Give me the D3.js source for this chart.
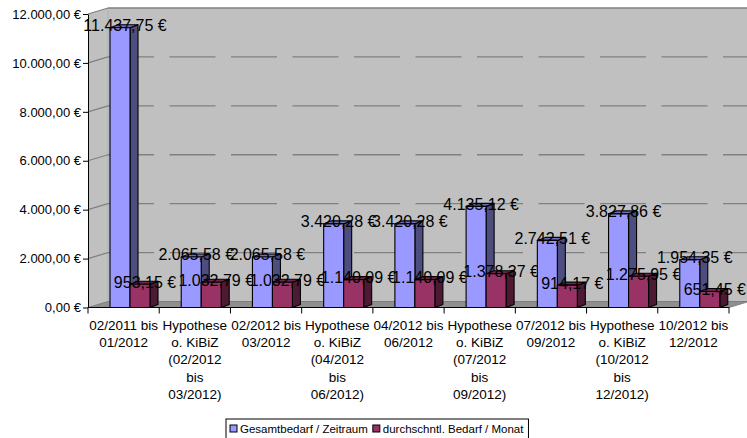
<!DOCTYPE html>
<html>
<head>
<meta charset="utf-8">
<script src="https://cdn.jsdelivr.net/npm/d3@7"></script>
<style>
  body { margin: 0; background: #fff; }
  svg { display: block; font-family: "Liberation Sans", Arial, sans-serif; }
</style>
</head>
<body>
<div id="chart"></div>
<script>
// categories (one entry per label line) and values
var categories = [
  ["02/2011 bis", "01/2012"],
  ["Hypothese", "o. KiBiZ", "(02/2012", "bis", "03/2012)"],
  ["02/2012 bis", "03/2012"],
  ["Hypothese", "o. KiBiZ", "(04/2012", "bis", "06/2012)"],
  ["04/2012 bis", "06/2012"],
  ["Hypothese", "o. KiBiZ", "(07/2012", "bis", "09/2012)"],
  ["07/2012 bis", "09/2012"],
  ["Hypothese", "o. KiBiZ", "(10/2012", "bis", "12/2012)"],
  ["10/2012 bis", "12/2012"]
];
var seriesNames = ["Gesamtbedarf / Zeitraum", "durchschntl. Bedarf / Monat"];
var gesamtbedarf = [11437.75, 2065.58, 2065.58, 3420.28, 3420.28, 4135.12, 2742.51, 3827.86, 1954.35];
var bedarfMonat = [953.15, 1032.79, 1032.79, 1140.09, 1140.09, 1378.37, 914.17, 1275.95, 651.45];
var yTicks = [0, 2000, 4000, 6000, 8000, 10000, 12000];

var W = 747, H = 438;
var plotL = 88, plotR = 729, plotB = 307.5, plotT = 14;
var wallDx = 20, wallDy = -6;   // depth of the back wall
var barDx = 8, barDy = -3;      // depth of each bar

var colors = {
  front: ["#9999ff", "#993366"],
  top:   ["#6e6eb8", "#6e2449"],
  side:  ["#4d4d80", "#4d1a33"]
};

var de = d3.formatLocale({decimal: ",", thousands: ".", grouping: [3], currency: ["", " €"]});
var eur = de.format("$,.2f");

var catKeys = categories.map(function(c) { return c.join(" "); });
var x = d3.scaleBand().domain(catKeys).range([plotL, plotR]);
var xs = d3.scaleBand().domain(seriesNames).range([22, 62]);
var y = d3.scaleLinear().domain([0, 12000]).range([plotB, plotT]);

var svg = d3.select("#chart").append("svg").attr("width", W).attr("height", H);

// walls and floor
var bl = plotL + wallDx, wallTop = y(12000) + wallDy, wallBottom = plotB + wallDy, wallRight = plotR + wallDx;
svg.append("polygon")
  .attr("points", [[plotL, y(12000)], [bl, wallTop], [bl, wallBottom], [plotL, plotB]].join(" "))
  .attr("fill", "#c0c0c0");
svg.append("rect").attr("x", bl).attr("y", wallTop).attr("width", wallRight - bl).attr("height", wallBottom - wallTop)
  .attr("fill", "#c0c0c0");
svg.append("polygon")
  .attr("points", [[plotL, plotB], [bl, wallBottom], [wallRight, wallBottom], [plotR, plotB]].join(" "))
  .attr("fill", "#8f8f8f").attr("stroke", "#6e6e6e").attr("stroke-width", 0.8);
svg.append("line").attr("x1", bl).attr("x2", bl).attr("y1", wallTop).attr("y2", wallBottom)
  .attr("stroke", "#b0b0b0").attr("stroke-width", 1);

// gridlines: solid on the side wall, dashed on the back wall
var grid = svg.append("g").attr("class", "grid");
yTicks.filter(function(d) { return d > 0; }).forEach(function(v) {
  grid.append("line").attr("x1", plotL).attr("y1", y(v)).attr("x2", bl).attr("y2", y(v) + wallDy)
    .attr("stroke", "#808080").attr("stroke-width", 1.2);
  grid.append("line").attr("x1", bl).attr("y1", y(v) + wallDy).attr("x2", wallRight).attr("y2", y(v) + wallDy)
    .attr("stroke", "#808080").attr("stroke-width", 1.3)
    .attr("stroke-dasharray", v == 12000 ? null : "46,15.5");
});

// y axis
var yAxis = svg.append("g").attr("transform", "translate(" + plotL + ",0)")
  .call(d3.axisLeft(y).tickValues(yTicks).tickSize(5).tickSizeOuter(0).tickPadding(2).tickFormat(eur));
yAxis.select(".domain").attr("stroke", "#000");
yAxis.selectAll(".tick line").attr("stroke", "#000");
yAxis.selectAll(".tick text").attr("fill", "#000").attr("font-size", null).attr("font-family", null)
  .style("font-size", "13px");

// x axis: line plus ticks at category borders
var xAxis = svg.append("g");
xAxis.append("line").attr("x1", plotL).attr("x2", plotR).attr("y1", plotB).attr("y2", plotB)
  .attr("stroke", "#000");
xAxis.selectAll(".xtick").data(catKeys.map(function(c) { return x(c); }).concat([plotR])).enter()
  .append("line").attr("class", "xtick")
  .attr("x1", function(d) { return d; }).attr("x2", function(d) { return d; })
  .attr("y1", plotB).attr("y2", plotB + 6).attr("stroke", "#000");

xAxis.selectAll(".xlabel").data(categories).enter().append("text").attr("class", "xlabel")
  .attr("text-anchor", "middle").style("font-size", "13.5px").attr("fill", "#000")
  .each(function(lines, i) {
    var cx = x(catKeys[i]) + x.bandwidth() / 2;
    d3.select(this).selectAll("tspan").data(lines).enter().append("tspan")
      .attr("x", cx).attr("y", function(d, j) { return 330 + j * 17.2; })
      .text(function(d) { return d; });
  });

// bars, drawn category by category so later bars cover earlier labels
var rows = catKeys.map(function(c, i) {
  return {cat: c, values: [gesamtbedarf[i], bedarfMonat[i]]};
});
var groups = svg.selectAll(".cat").data(rows).enter().append("g").attr("class", "cat");

groups.each(function(r) {
  var g = d3.select(this);
  var bw = xs.bandwidth();
  r.values.forEach(function(v, s) {
    var x0 = x(r.cat) + xs(seriesNames[s]), x1 = x0 + bw, y0 = y(0), y1 = y(v);
    var b = g.append("g").attr("stroke", "#000").attr("stroke-width", 1.1).attr("stroke-linejoin", "round");
    b.append("polygon").attr("fill", colors.side[s])
      .attr("points", [[x1, y1], [x1 + barDx, y1 + barDy], [x1 + barDx, y0 + barDy], [x1, y0]].join(" "));
    b.append("polygon").attr("fill", colors.top[s])
      .attr("points", [[x0, y1], [x0 + barDx, y1 + barDy], [x1 + barDx, y1 + barDy], [x1, y1]].join(" "));
    b.append("rect").attr("fill", colors.front[s])
      .attr("x", x0).attr("y", y1).attr("width", bw).attr("height", y0 - y1);
  });
  r.values.forEach(function(v, s) {
    g.append("text").attr("text-anchor", "middle").attr("dominant-baseline", "central")
      .style("font-size", "16px").attr("fill", "#000")
      .attr("x", x(r.cat) + xs(seriesNames[s]) + bw / 2 + 5)
      .attr("y", y(v) - 2)
      .text(eur(v));
  });
});

// legend
var lg = svg.append("g").attr("class", "legend");
var box = lg.append("rect").attr("y", 419).attr("height", 40).attr("fill", "#fff").attr("stroke", "#000");
var lx = 230;
seriesNames.forEach(function(n, s) {
  lg.append("rect").attr("x", lx).attr("y", 425).attr("width", 7).attr("height", 7)
    .attr("fill", colors.front[s]).attr("stroke", "#000");
  var t = lg.append("text").attr("x", lx + 10).attr("y", 433).style("font-size", "11.5px").attr("fill", "#000").text(n);
  lx += 10 + t.node().getComputedTextLength() + 5;
});
box.attr("x", 226).attr("width", lx - 226);
</script>
</body>
</html>
